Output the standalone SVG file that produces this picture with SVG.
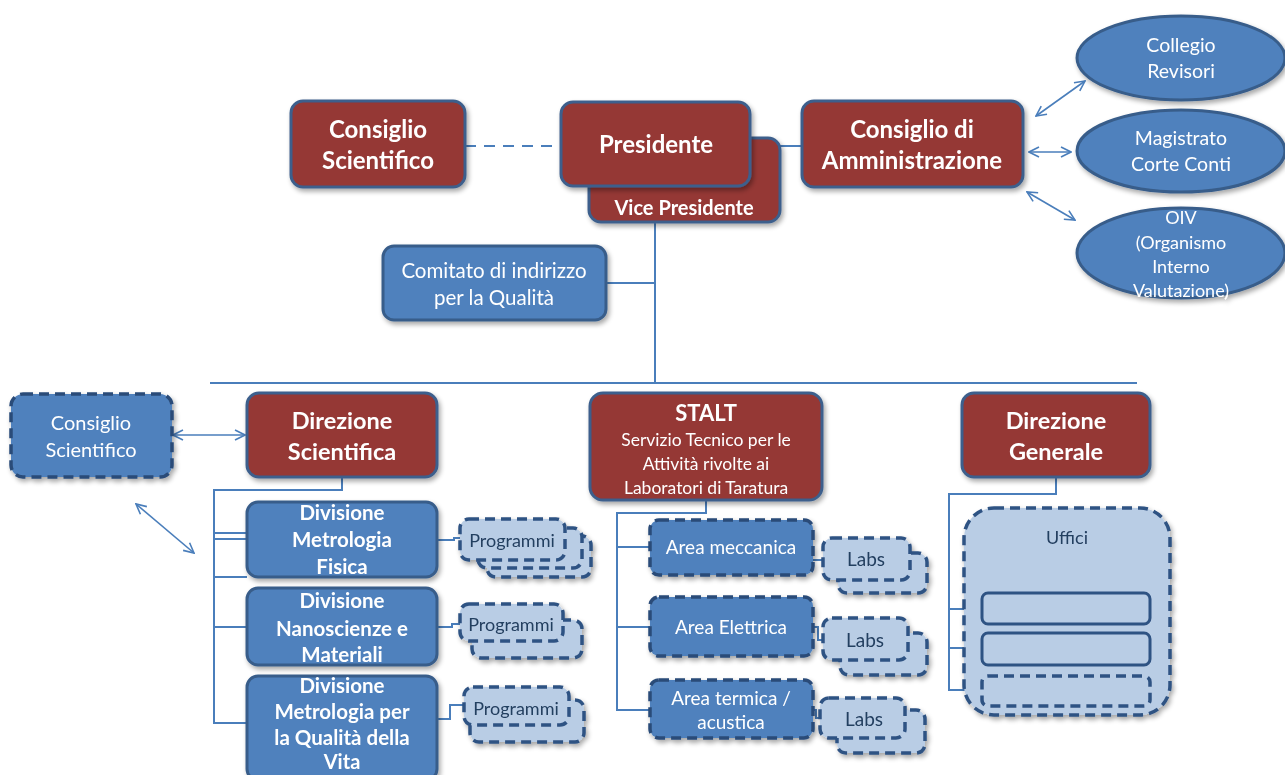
<svg xmlns="http://www.w3.org/2000/svg" width="1285" height="775" viewBox="0 0 1285 775">
<defs>
<filter id="sh" x="-10%" y="-10%" width="125%" height="130%">
<feGaussianBlur in="SourceAlpha" stdDeviation="2.5"/>
<feOffset dx="2" dy="3" result="o"/>
<feComponentTransfer><feFuncA type="linear" slope="0.35"/></feComponentTransfer>
<feMerge><feMergeNode/><feMergeNode in="SourceGraphic"/></feMerge>
</filter>
<marker id="ah" viewBox="0 0 12 12" refX="11" refY="6" markerWidth="12" markerHeight="12" markerUnits="userSpaceOnUse" orient="auto-start-reverse">
<path d="M1,1 L11,6 L1,11" fill="none" stroke="#4a7ebb" stroke-width="1.6"/>
</marker>
</defs>
<style>
.red{fill:#953735;stroke:#3c5f8c;stroke-width:3}
.blue{fill:#4f81bd;stroke:#385d8a;stroke-width:3}
.bluedash{fill:#4f81bd;stroke:#2a4b78;stroke-width:3.5;stroke-dasharray:10 6}
.light{fill:#b9cde5;stroke:#2f5283;stroke-width:3.5;stroke-dasharray:10 6}
.lightsolid{fill:#b9cde5;stroke:#2f5283;stroke-width:3}
.tb{font-family:Lato,"Liberation Sans",sans-serif;font-weight:bold;fill:#ffffff;text-anchor:middle}
.tn{font-family:Lato,"Liberation Sans",sans-serif;fill:#ffffff;text-anchor:middle}
.td{font-family:Lato,"Liberation Sans",sans-serif;fill:#243f60;text-anchor:middle}
.ln{fill:none;stroke:#4a7ebb;stroke-width:2}
.arr{fill:none;stroke:#4a7ebb;stroke-width:1.6;marker-start:url(#ah);marker-end:url(#ah)}
</style>
<rect width="1285" height="775" fill="#ffffff"/>

<g id="connectors">
<line class="ln" x1="465" y1="146" x2="560" y2="146" stroke-dasharray="11 8"/>
<line class="ln" x1="780" y1="146" x2="802" y2="146"/>
<line class="ln" x1="655" y1="222" x2="655" y2="383"/>
<line class="ln" x1="606" y1="283" x2="655" y2="283"/>
<line class="ln" x1="210" y1="383" x2="1137" y2="383"/>
<line class="arr" x1="1036" y1="116" x2="1085" y2="81"/>
<line class="arr" x1="1029" y1="152" x2="1071" y2="152"/>
<line class="arr" x1="1027" y1="192" x2="1075" y2="220"/>
<line class="arr" x1="173" y1="435" x2="245" y2="435"/>
<line class="arr" x1="136" y1="504" x2="194" y2="553"/>
<polyline class="ln" points="342,477 342,490 214,490 214,723 247,723"/>
<line class="ln" x1="214" y1="533" x2="247" y2="533"/>
<line class="ln" x1="214" y1="539" x2="247" y2="539"/>
<line class="ln" x1="214" y1="577" x2="247" y2="577"/>
<line class="ln" x1="214" y1="627" x2="247" y2="627"/>
<polyline class="ln" points="437,540 454,540 454,538 461,538"/>
<polyline class="ln" points="437,627 452,627 452,624 461,624"/>
<polyline class="ln" points="437,719 450,719 450,705 464,705"/>
<polyline class="ln" points="706,500 706,513 617,513 617,710 650,710"/>
<line class="ln" x1="617" y1="547" x2="650" y2="547"/>
<line class="ln" x1="617" y1="627" x2="650" y2="627"/>
<line class="ln" x1="813" y1="560" x2="823" y2="560"/>
<polyline class="ln" points="813,627 818,627 818,640 823,640"/>
<polyline class="ln" points="813,710 816,710 816,718 820,718"/>
<polyline class="ln" points="1056,477 1056,494 949,494 949,690 982,690"/>
<line class="ln" x1="949" y1="609" x2="982" y2="609"/>
<line class="ln" x1="949" y1="648" x2="982" y2="648"/>
</g>

<g id="consiglio-scientifico-top" filter="url(#sh)">
<rect class="red" x="291" y="101" width="174" height="86" rx="12"/>
<text class="tb" font-size="24" x="378" y="138">Consiglio</text>
<text class="tb" font-size="24" x="378" y="169">Scientifico</text>
</g>

<g id="vice-presidente" filter="url(#sh)">
<rect class="red" x="589" y="138" width="191" height="84" rx="12"/>
<text class="tb" font-size="20" x="684" y="215">Vice Presidente</text>
</g>

<g id="presidente" filter="url(#sh)">
<rect class="red" x="561" y="102" width="189" height="84" rx="12"/>
<text class="tb" font-size="24" x="656" y="153">Presidente</text>
</g>

<g id="consiglio-amministrazione" filter="url(#sh)">
<rect class="red" x="802" y="101" width="221" height="86" rx="12"/>
<text class="tb" font-size="24" x="912" y="138">Consiglio di</text>
<text class="tb" font-size="24" x="912" y="169">Amministrazione</text>
</g>

<g id="collegio-revisori" filter="url(#sh)">
<ellipse class="blue" cx="1181" cy="58" rx="104" ry="42"/>
<text class="tn" font-size="19.5" x="1181" y="52">Collegio</text>
<text class="tn" font-size="19.5" x="1181" y="78">Revisori</text>
</g>

<g id="magistrato" filter="url(#sh)">
<ellipse class="blue" cx="1181" cy="151" rx="104" ry="41"/>
<text class="tn" font-size="19.5" x="1181" y="145">Magistrato</text>
<text class="tn" font-size="19.5" x="1181" y="171">Corte Conti</text>
</g>

<g id="oiv" filter="url(#sh)">
<ellipse class="blue" cx="1181" cy="253" rx="104" ry="45"/>
<text class="tn" font-size="18" x="1181" y="224">OIV</text>
<text class="tn" font-size="18" x="1181" y="249">(Organismo</text>
<text class="tn" font-size="18" x="1181" y="273">Interno</text>
<text class="tn" font-size="18" x="1181" y="297">Valutazione)</text>
</g>

<g id="comitato" filter="url(#sh)">
<rect class="blue" x="383" y="246" width="223" height="74" rx="11"/>
<text class="tn" font-size="20.5" x="494" y="278">Comitato di indirizzo</text>
<text class="tn" font-size="20.5" x="494" y="305">per la Qualità</text>
</g>

<g id="consiglio-scientifico-bottom" filter="url(#sh)">
<rect class="bluedash" x="11" y="394" width="161" height="83" rx="12"/>
<text class="tn" font-size="20" x="91" y="430">Consiglio</text>
<text class="tn" font-size="20" x="91" y="457">Scientifico</text>
</g>

<g id="direzione-scientifica" filter="url(#sh)">
<rect class="red" x="247" y="393" width="190" height="84" rx="12"/>
<text class="tb" font-size="23.5" x="342" y="429">Direzione</text>
<text class="tb" font-size="23.5" x="342" y="460">Scientifica</text>
</g>

<g id="div-metrologia-fisica" filter="url(#sh)">
<rect class="blue" x="247" y="502" width="190" height="75" rx="11"/>
<text class="tb" font-size="20.5" x="342" y="520">Divisione</text>
<text class="tb" font-size="20.5" x="342" y="547">Metrologia</text>
<text class="tb" font-size="20.5" x="342" y="574">Fisica</text>
</g>

<g id="div-nanoscienze" filter="url(#sh)">
<rect class="blue" x="247" y="588" width="190" height="77" rx="11"/>
<text class="tb" font-size="20.5" x="342" y="608">Divisione</text>
<text class="tb" font-size="20.5" x="342" y="636">Nanoscienze e</text>
<text class="tb" font-size="20.5" x="342" y="662">Materiali</text>
</g>

<g id="div-qualita-vita" filter="url(#sh)">
<rect class="blue" x="247" y="676" width="190" height="104" rx="11"/>
<text class="tb" font-size="20.5" x="342" y="693">Divisione</text>
<text class="tb" font-size="20.5" x="342" y="719">Metrologia per</text>
<text class="tb" font-size="20.5" x="342" y="745">la Qualità della</text>
<text class="tb" font-size="20" x="342" y="769">Vita</text>
</g>

<g id="programmi-1" filter="url(#sh)">
<rect class="light" x="487" y="536" width="104" height="41" rx="9"/>
<rect class="light" x="478" y="528" width="104" height="40" rx="9"/>
<rect class="light" x="460" y="519" width="105" height="41" rx="9"/>
<text class="td" font-size="18" x="512" y="547">Programmi</text>
</g>

<g id="programmi-2" filter="url(#sh)">
<rect class="light" x="472" y="620" width="110" height="38" rx="9"/>
<rect class="light" x="460" y="604" width="103" height="37" rx="9"/>
<text class="td" font-size="18" x="511" y="631">Programmi</text>
</g>

<g id="programmi-3" filter="url(#sh)">
<rect class="light" x="470" y="700" width="114" height="42" rx="9"/>
<rect class="light" x="464" y="687" width="105" height="38" rx="9"/>
<text class="td" font-size="18" x="516" y="715">Programmi</text>
</g>

<g id="stalt" filter="url(#sh)">
<rect class="red" x="590" y="393" width="232" height="107" rx="13"/>
<text class="tb" font-size="22" x="706" y="421">STALT</text>
<text class="tn" font-size="17.5" x="706" y="446">Servizio Tecnico per le</text>
<text class="tn" font-size="17.5" x="706" y="470">Attività rivolte ai</text>
<text class="tn" font-size="17.5" x="706" y="494">Laboratori di Taratura</text>
</g>

<g id="area-meccanica" filter="url(#sh)">
<rect class="bluedash" x="650" y="520" width="163" height="55" rx="9"/>
<text class="tn" font-size="19" x="731" y="554">Area meccanica</text>
</g>

<g id="area-elettrica" filter="url(#sh)">
<rect class="bluedash" x="650" y="597" width="163" height="59" rx="9"/>
<text class="tn" font-size="19" x="731" y="634">Area Elettrica</text>
</g>

<g id="area-termica" filter="url(#sh)">
<rect class="bluedash" x="650" y="680" width="163" height="58" rx="9"/>
<text class="tn" font-size="19" x="731" y="705">Area termica /</text>
<text class="tn" font-size="19" x="731" y="729">acustica</text>
</g>

<g id="labs-1" filter="url(#sh)">
<rect class="light" x="838" y="553" width="89" height="40" rx="9"/>
<rect class="light" x="823" y="538" width="87" height="42" rx="9"/>
<text class="td" font-size="19" x="866" y="566">Labs</text>
</g>

<g id="labs-2" filter="url(#sh)">
<rect class="light" x="840" y="633" width="87" height="42" rx="9"/>
<rect class="light" x="823" y="618" width="85" height="42" rx="9"/>
<text class="td" font-size="19" x="865" y="647">Labs</text>
</g>

<g id="labs-3" filter="url(#sh)">
<rect class="light" x="837" y="710" width="88" height="43" rx="9"/>
<rect class="light" x="820" y="698" width="85" height="40" rx="9"/>
<text class="td" font-size="19" x="864" y="726">Labs</text>
</g>

<g id="direzione-generale" filter="url(#sh)">
<rect class="red" x="962" y="393" width="188" height="84" rx="12"/>
<text class="tb" font-size="23.5" x="1056" y="429">Direzione</text>
<text class="tb" font-size="23.5" x="1056" y="460">Generale</text>
</g>

<g id="uffici" filter="url(#sh)">
<rect class="light" x="964" y="508" width="206" height="207" rx="30"/>
<text class="td" font-size="18" x="1067" y="544">Uffici</text>
<rect class="lightsolid" x="982" y="593" width="168" height="31" rx="6"/>
<rect class="lightsolid" x="982" y="633" width="168" height="32" rx="6"/>
<rect class="light" x="982" y="676" width="168" height="30" rx="6"/>
</g>
</svg>
